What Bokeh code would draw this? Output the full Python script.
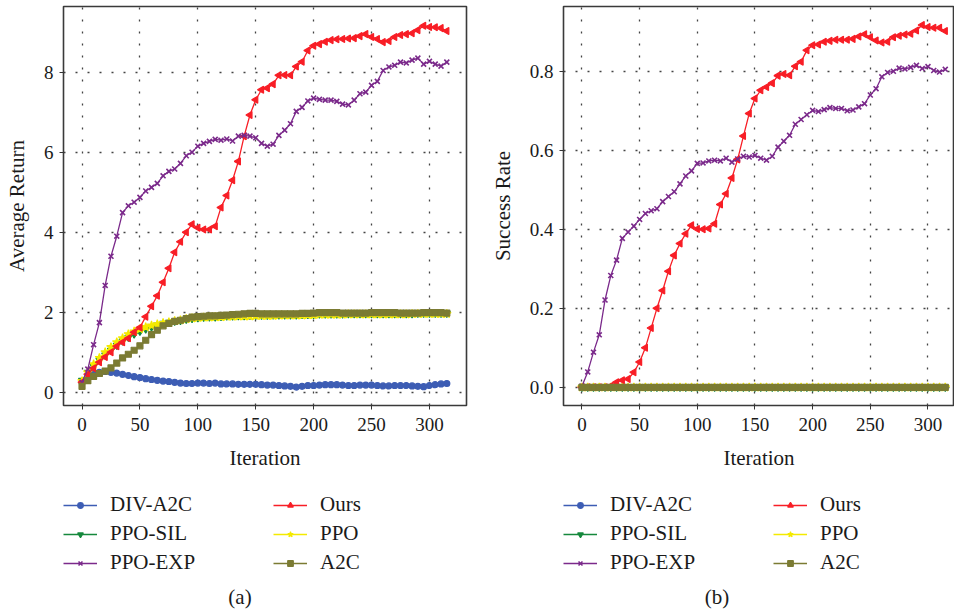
import numpy as np
from bokeh.plotting import figure
from bokeh.models import Legend, LegendItem, FixedTicker, Div, PrintfTickFormatter, Range1d
from bokeh.layouts import row, column
from bokeh.embed import file_html
from bokeh.resources import INLINE

iterations = list(range(0, 320, 5))

names = ["DIV-A2C", "PPO-SIL", "PPO-EXP", "Ours", "PPO", "A2C"]

ret_div = [0.25,0.38,0.47,0.5,0.52,0.5,0.48,0.45,0.42,0.39,0.37,0.34,0.32,0.3,0.28,0.27,0.25,0.23,0.22,0.22,
           0.23,0.23,0.22,0.23,0.21,0.21,0.21,0.2,0.2,0.2,0.2,0.19,0.18,0.18,0.17,0.16,0.15,0.13,0.15,0.17,
           0.17,0.18,0.19,0.19,0.19,0.18,0.17,0.17,0.18,0.18,0.18,0.17,0.16,0.16,0.17,0.17,0.17,0.16,0.15,0.14,
           0.17,0.19,0.21,0.22]
ret_sil = [0.3,0.5,0.65,0.8,0.93,1.05,1.17,1.28,1.37,1.45,1.52,1.58,1.63,1.68,1.72,1.75,1.77,1.79,1.82,1.84,
           1.86,1.87,1.88,1.88,1.89,1.9,1.9,1.91,1.91,1.92,1.92,1.92,1.92,1.93,1.93,1.93,1.93,1.93,1.94,1.94,
           1.94,1.95,1.95,1.95,1.95,1.95,1.96,1.96,1.96,1.96,1.96,1.96,1.96,1.96,1.96,1.96,1.96,1.96,1.97,1.97,
           1.97,1.97,1.97,1.97]
ret_exp = [0.25,0.58,1.19,1.74,2.67,3.4,3.9,4.49,4.66,4.75,4.87,5.03,5.12,5.22,5.41,5.52,5.58,5.72,5.91,6.0,
           6.15,6.22,6.27,6.32,6.3,6.33,6.28,6.4,6.42,6.4,6.36,6.22,6.15,6.2,6.42,6.55,6.71,7.02,7.12,7.28,
           7.35,7.32,7.3,7.3,7.27,7.2,7.18,7.3,7.46,7.5,7.67,7.77,8.04,8.13,8.17,8.25,8.23,8.3,8.35,8.2,
           8.27,8.2,8.15,8.25]
ret_ours = [0.25,0.45,0.6,0.75,0.88,1.0,1.15,1.25,1.35,1.5,1.62,1.89,2.15,2.41,2.75,3.1,3.5,3.76,4.0,4.2,
            4.11,4.07,4.07,4.15,4.62,4.92,5.3,5.77,6.4,6.93,7.31,7.56,7.6,7.7,7.92,7.93,7.92,8.14,8.26,8.54,
            8.66,8.7,8.76,8.8,8.82,8.83,8.84,8.85,8.9,8.95,8.88,8.83,8.75,8.78,8.88,8.93,8.95,8.97,9.05,9.16,
            9.13,9.12,9.1,9.03]
ret_ppo = [0.28,0.5,0.7,0.86,1.0,1.13,1.25,1.35,1.45,1.52,1.58,1.63,1.67,1.7,1.73,1.75,1.78,1.8,1.83,1.85,
           1.86,1.87,1.87,1.88,1.88,1.89,1.89,1.9,1.9,1.9,1.91,1.91,1.91,1.91,1.92,1.92,1.92,1.92,1.92,1.93,
           1.93,1.94,1.94,1.94,1.94,1.94,1.95,1.95,1.95,1.95,1.95,1.95,1.95,1.95,1.95,1.95,1.95,1.96,1.96,1.96,
           1.96,1.96,1.96,1.96]
ret_a2c = [0.15,0.29,0.4,0.47,0.53,0.61,0.73,0.86,0.95,1.05,1.16,1.3,1.44,1.55,1.66,1.72,1.77,1.8,1.84,1.88,
           1.89,1.9,1.91,1.91,1.92,1.93,1.94,1.95,1.96,1.97,1.97,1.96,1.96,1.96,1.96,1.96,1.96,1.96,1.97,1.97,
           1.98,1.99,1.99,1.99,1.99,1.98,1.98,1.98,1.98,1.98,1.99,1.99,1.99,1.99,1.99,1.98,1.98,1.98,1.98,1.99,
           1.99,1.99,1.99,1.98]

zeros = [0.0] * 64
suc_div = zeros
suc_sil = zeros
suc_ppo = zeros
suc_a2c = zeros
suc_exp = [0.003,0.039,0.089,0.133,0.221,0.283,0.322,0.377,0.393,0.408,0.425,0.44,0.447,0.452,0.47,0.483,0.495,0.515,0.535,0.548,
           0.567,0.568,0.573,0.575,0.573,0.58,0.57,0.578,0.585,0.583,0.587,0.58,0.575,0.585,0.608,0.623,0.638,0.666,0.678,0.69,
           0.701,0.698,0.703,0.708,0.706,0.706,0.7,0.702,0.71,0.718,0.74,0.756,0.786,0.797,0.8,0.808,0.806,0.81,0.815,0.807,
           0.812,0.802,0.798,0.805]
suc_ours = [0,0,0,0,0,0.003,0.013,0.018,0.021,0.038,0.064,0.1,0.15,0.2,0.245,0.294,0.334,0.364,0.389,0.41,
            0.401,0.4,0.402,0.414,0.463,0.49,0.53,0.577,0.636,0.693,0.731,0.752,0.76,0.77,0.789,0.793,0.79,0.813,0.824,0.853,
            0.866,0.868,0.875,0.877,0.88,0.88,0.88,0.882,0.888,0.894,0.886,0.878,0.873,0.875,0.886,0.89,0.893,0.895,0.903,0.917,
            0.912,0.91,0.91,0.902]

x_ticks = [0, 50, 100, 150, 200, 250, 300]
ret_ticks = [0, 2, 4, 6, 8]
suc_ticks = [0.0, 0.2, 0.4, 0.6, 0.8]

FONT = "Liberation Serif"
styles = {
    "DIV-A2C": dict(color="#3d5db4", marker="circle", size=6, angle=0.0, lw=1.2),
    "PPO-SIL": dict(color="#15883c", marker="inverted_triangle", size=7, angle=0.0, lw=1.2),
    "PPO-EXP": dict(color="#7b2a8b", marker="x", size=7, angle=0.0, lw=1.6),
    "Ours": dict(color="#f81e26", marker="triangle", size=7, angle=np.pi / 2, lw=1.2),
    "PPO": dict(color="#f4ea00", marker="star", size=9, angle=0.0, lw=1.2),
    "A2C": dict(color="#7b7b33", marker="square", size=6, angle=0.0, lw=1.2),
}
draw_order = ["DIV-A2C", "PPO-SIL", "PPO", "Ours", "PPO-EXP", "A2C"]


def add_series(p, data, visible=True):
    rs = {}
    for name in draw_order:
        st = styles[name]
        ys = data[name]
        ln = p.line(iterations, ys, line_color=st["color"], line_width=1.3, visible=visible)
        sc = p.scatter(iterations, ys, marker=st["marker"], size=st["size"], angle=st["angle"],
                       fill_color=st["color"], line_color=st["color"], line_width=st["lw"],
                       visible=visible)
        rs[name] = [ln, sc]
    return rs


def make_panel(data, width, min_left, min_right, xr, yr, yticks, ylabel, yfmt):
    p = figure(width=width, height=479, output_backend="svg", toolbar_location=None,
               x_range=Range1d(*xr), y_range=Range1d(*yr),
               min_border_left=min_left, min_border_right=min_right,
               min_border_top=6, min_border_bottom=74)
    p.outline_line_color = "#3a3a3a"
    p.outline_line_width = 1.6
    add_series(p, data)
    for ax in (p.xaxis, p.yaxis):
        ax.axis_line_color = None
        ax.major_tick_in = 0
        ax.major_tick_out = 4
        ax.major_tick_line_color = "#333333"
        ax.minor_tick_line_color = None
        ax.major_label_text_font = FONT
        ax.major_label_text_font_size = "19px"
        ax.major_label_text_color = "#1a1a1a"
        ax.axis_label_text_font = FONT
        ax.axis_label_text_font_size = "21px"
        ax.axis_label_text_font_style = "normal"
        ax.axis_label_text_color = "#1a1a1a"
    p.xaxis.major_label_standoff = 8
    p.yaxis.major_label_standoff = 6
    p.xaxis.ticker = FixedTicker(ticks=x_ticks)
    p.yaxis.ticker = FixedTicker(ticks=yticks)
    p.yaxis.formatter = PrintfTickFormatter(format=yfmt)
    p.xaxis.axis_label = "Iteration"
    p.yaxis.axis_label = ylabel
    p.xaxis.axis_label_standoff = 12
    p.yaxis.axis_label_standoff = 12
    for g in (p.xgrid, p.ygrid):
        g.grid_line_color = "#444444"
        g.grid_line_width = 1.3
        g.grid_line_dash = "2 10"
    return p


def legend_figure(data, width, xr, top):
    height = 109
    lf = figure(width=width, height=height, output_backend="svg", toolbar_location=None,
                x_axis_type=None, y_axis_type=None, x_range=Range1d(*xr), y_range=Range1d(0, 1),
                min_border=0, outline_line_color=None)
    lf.grid.visible = False
    rs = add_series(lf, data, visible=False)
    leg_h = 80
    for k, group in enumerate([names[:3], names[3:]]):
        items = [LegendItem(label=n, renderers=rs[n]) for n in group]
        leg = Legend(items=items, location=(210 * k, height - top - leg_h),
                     orientation="vertical", glyph_width=34, glyph_height=14, label_height=14,
                     label_standoff=13, spacing=4, padding=0, margin=0,
                     border_line_color=None, background_fill_alpha=0,
                     inactive_fill_alpha=0,
                     label_text_font=FONT, label_text_font_size="21px",
                     label_text_color="#1a1a1a")
        lf.add_layout(leg)
    return lf


def caption(text, width):
    return Div(text=text, width=width, height=18, margin=(0, 0, 0, 0),
               styles={"text-align": "center", "font-family": FONT, "font-size": "21px",
                       "line-height": "18px", "color": "#1a1a1a"})


ret_data = {"DIV-A2C": ret_div, "PPO-SIL": ret_sil, "PPO-EXP": ret_exp,
            "Ours": ret_ours, "PPO": ret_ppo, "A2C": ret_a2c}
suc_data = {"DIV-A2C": suc_div, "PPO-SIL": suc_sil, "PPO-EXP": suc_exp,
            "Ours": suc_ours, "PPO": suc_ppo, "A2C": suc_a2c}

xr1 = (-16, 332)
xr2 = (-16, 323)
p1 = make_panel(ret_data, 480, 63, 14, xr1, (-0.33, 9.64), ret_ticks, "Average Return", "%d")
lf1 = legend_figure(ret_data, 480, xr1, 16)
p2 = make_panel(suc_data, 474, 83, 0, xr2, (-0.046, 0.964), suc_ticks, "Success Rate", "%.1f")
lf2 = legend_figure(suc_data, 474, xr2, 16)

layout = row(column(p1, lf1, caption("(a)", 480)), column(p2, lf2, caption("(b)", 474)))
open("out.html", "w").write(file_html(layout, INLINE))
